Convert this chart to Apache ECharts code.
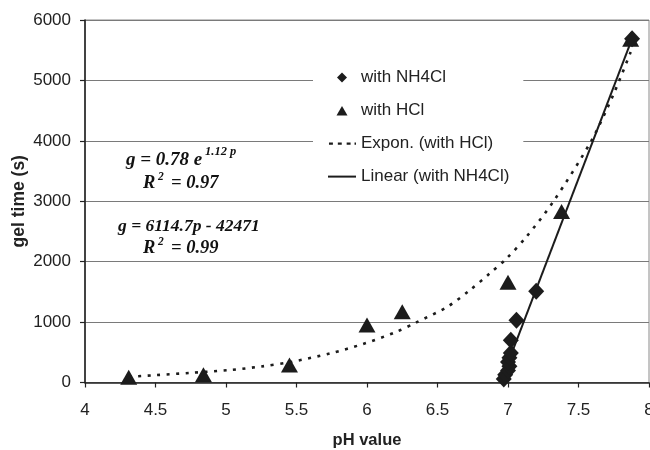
<!DOCTYPE html>
<html>
<head>
<meta charset="utf-8">
<script src="https://cdn.jsdelivr.net/npm/echarts@6/dist/echarts.min.js"></script>
<style>
  html, body { margin: 0; padding: 0; background: #fff; }
  #chart { width: 650px; height: 450px; }
</style>
</head>
<body>
<div id="chart"></div>
<script>
// pH tick labels and gel time ticks
const xTicks = [4, 4.5, 5, 5.5, 6, 6.5, 7, 7.5, 8];
const yTicks = [0, 1000, 2000, 3000, 4000, 5000, 6000];

// Measured gel times, ammonium chloride series [pH, gel time (s)]
const nh4clPoints = [
  [6.97, 60], [6.98, 130], [7.00, 200], [7.01, 270], [7.00, 340],
  [7.01, 410], [7.02, 490], [7.02, 700], [7.06, 1030], [7.20, 1510],
  [7.88, 5690]
];

// Measured gel times, hydrochloric acid series [pH, gel time (s)]
const hclPoints = [
  [4.31, 85], [4.84, 130], [5.45, 290], [6.00, 950], [6.25, 1170],
  [7.00, 1660], [7.38, 2830], [7.87, 5680]
];

// Exponential trend through the HCl series
const exponTrend = [
  [4.31, 95], [4.5, 122], [4.75, 160], [5.03, 207], [5.25, 265],
  [5.45, 335], [5.74, 483], [5.97, 636], [6.21, 840], [6.35, 995],
  [6.57, 1253], [6.73, 1529], [6.87, 1805], [6.99, 2053], [7.13, 2410],
  [7.32, 2990], [7.59, 3997], [7.75, 4780], [7.87, 5470]
];

// Linear trend through the NH4Cl series
const linearTrend = [[6.96, 80], [7.885, 5720]];

const seriesNames = ['with NH4Cl', 'with HCl', 'Expon. (with HCl)', 'Linear (with NH4Cl)'];

const ink = '#1c1c1c';
const sans = 'Liberation Sans';
const serif = 'Liberation Serif';

// Legend keys drawn in a 28x11 box (the leading moves pin the box extent)
const box = 'path://M0,0M28,11';
const keyDiamond = box + 'M14,0.5L19,5.5L14,10.5L9,5.5Z';
const keyTriangle = box + 'M14,1L19.5,10.5L8.5,10.5Z';
const keyDotted = box + 'M1,4.5h4v2.2h-4zM10,4.5h4v2.2h-4zM19,4.5h4v2.2h-4zM27,4.5h1.5v2.2h-1.5z';
const keySolid = box + 'M0,4.6h28v2h-28z';

const chart = echarts.init(document.getElementById('chart'), null, { renderer: 'canvas' });

function eq(text, left, top, size) {
  return {
    type: 'text', left: left, top: top,
    style: { text: text, fontFamily: serif, fontStyle: 'italic', fontWeight: 'bold', fontSize: size || 17, fill: '#111' }
  };
}

chart.setOption({
  animation: false,
  backgroundColor: '#fff',
  grid: {
    left: 85, right: 1, top: 20, bottom: 67.5,
    outerBoundsMode: 'none', containLabel: false,
    show: true, borderColor: '#8a8a8a', borderWidth: 1, backgroundColor: 'transparent'
  },
  xAxis: {
    type: 'value',
    min: xTicks[0], max: xTicks[xTicks.length - 1], interval: 0.5,
    name: 'pH value', nameLocation: 'middle', nameGap: 49, nameMoveOverlap: false,
    nameTextStyle: { fontFamily: sans, fontWeight: 'bold', fontSize: 16.5, color: '#222' },
    axisLine: { show: true, onZero: false, lineStyle: { color: '#222', width: 1.6 } },
    axisTick: { show: true, inside: false, length: 5, lineStyle: { color: '#222', width: 1.2 } },
    axisLabel: { fontFamily: sans, fontSize: 17, color: '#222', margin: 19, showMaxLabel: true },
    splitLine: { show: false }
  },
  yAxis: {
    type: 'value',
    min: yTicks[0], max: yTicks[yTicks.length - 1], interval: 1000,
    name: 'gel time (s)', nameLocation: 'middle', nameGap: 57, nameMoveOverlap: false,
    nameTextStyle: { fontFamily: sans, fontWeight: 'bold', fontSize: 17.5, color: '#222' },
    axisLine: { show: true, lineStyle: { color: '#222', width: 1.6 } },
    axisTick: { show: true, inside: false, length: 5, lineStyle: { color: '#222', width: 1.2 } },
    axisLabel: { fontFamily: sans, fontSize: 17, color: '#222', margin: 14, formatter: v => String(v) },
    splitLine: { show: true, lineStyle: { color: '#7a7a7a', width: 1 } }
  },
  legend: {
    orient: 'vertical',
    left: 313, top: 57,
    padding: [12, 14, 10, 15],
    backgroundColor: '#fff',
    itemWidth: 28, itemHeight: 11, itemGap: 16,
    itemStyle: { borderWidth: 0 },
    textStyle: { fontFamily: sans, fontSize: 17, color: '#222' },
    data: [
      { name: seriesNames[0], icon: keyDiamond },
      { name: seriesNames[1], icon: keyTriangle },
      { name: seriesNames[2], icon: keyDotted },
      { name: seriesNames[3], icon: keySolid }
    ]
  },
  graphic: [
    eq('g = 0.78 e', 126, 150.5, 19),
    eq('1.12 p', 205, 145, 12.5),
    eq('R', 143, 173.5, 18.5),
    eq('2', 158, 171, 11.5),
    eq('= 0.97', 171, 173.5, 18.5),
    eq('g = 6114.7p - 42471', 118, 217, 17.5),
    eq('R', 143, 238.5, 18.5),
    eq('2', 158, 236, 11.5),
    eq('= 0.99', 171, 238.5, 18.5)
  ],
  series: [
    {
      name: seriesNames[2], type: 'line', data: exponTrend,
      smooth: 0.3, symbol: 'none', z: 2,
      lineStyle: { color: ink, width: 2.6, type: [3, 6.5], cap: 'butt' },
      itemStyle: { color: ink }
    },
    {
      name: seriesNames[3], type: 'line', data: linearTrend,
      symbol: 'none', z: 2,
      lineStyle: { color: ink, width: 2, type: 'solid' },
      itemStyle: { color: ink }
    },
    {
      name: seriesNames[1], type: 'scatter', data: hclPoints,
      symbol: 'triangle', symbolSize: [17, 15], z: 3,
      itemStyle: { color: ink, opacity: 1 }
    },
    {
      name: seriesNames[0], type: 'scatter', data: nh4clPoints,
      symbol: 'diamond', symbolSize: [16, 17], z: 4,
      itemStyle: { color: ink, opacity: 1 }
    }
  ]
});
</script>
</body>
</html>
